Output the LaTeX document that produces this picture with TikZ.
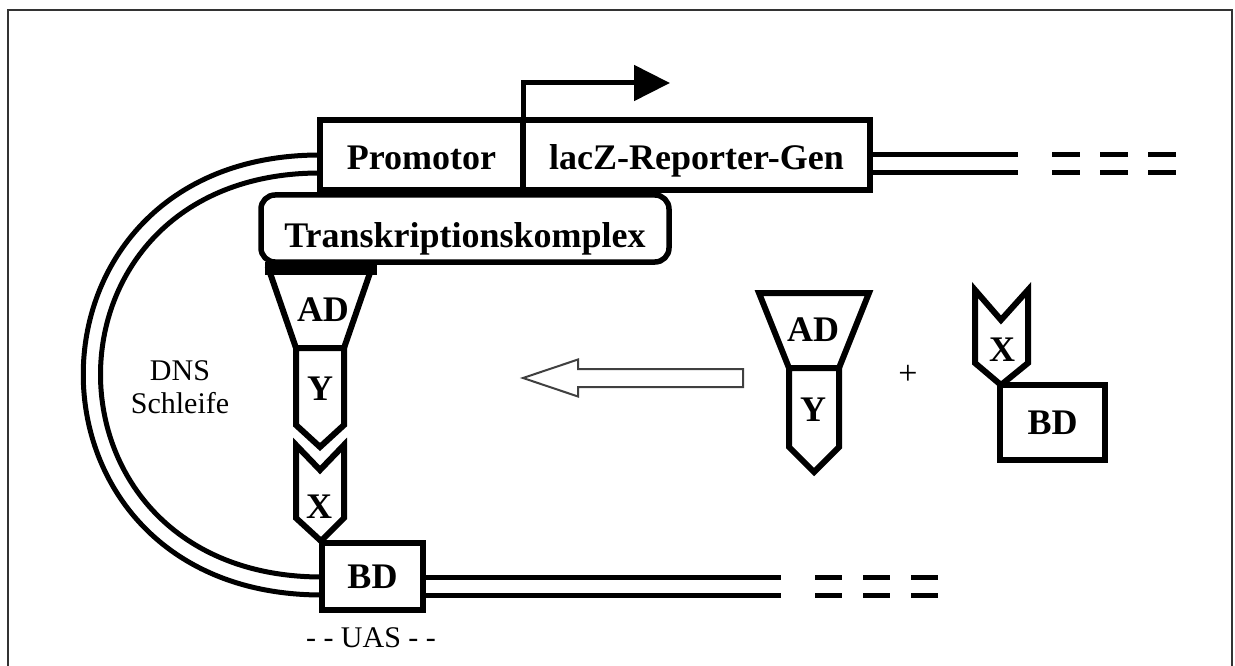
\documentclass[tikz,border=0pt]{standalone}
\usepackage{fontspec}
\setmainfont{Liberation Serif}
\usetikzlibrary{arrows.meta}
\begin{document}
\begin{tikzpicture}[x=1pt,y=-1pt,
  box/.style={draw, line width=5.5pt, fill=white, inner sep=0pt, outer sep=0pt,
    text height=24pt, text depth=0pt, font=\fontsize{36}{40}\selectfont\bfseries},
  lowtext/.style={text height=36pt, text depth=6pt},
  lowertext/.style={text height=40pt, text depth=3pt},
  part/.style={draw, line width=6pt, fill=white, line join=miter, miter limit=10},
  dna/.style={line width=5pt},
  lbl/.style={inner sep=0pt, font=\fontsize{36}{40}\selectfont\bfseries},
  small/.style={inner sep=0pt, font=\fontsize{30}{33}\selectfont}
]
\useasboundingbox (0,0) rectangle (1235,666);
% frame
\draw[line width=2.5pt, black!80] (8,10) rectangle (1232,720);

% helper coordinates for DNA strands
\coordinate (y1) at (0,155);
\coordinate (y2) at (0,173);
\coordinate (y3) at (0,577);
\coordinate (y4) at (0,595);
\coordinate (e1) at (1018,155);
\coordinate (e2) at (1018,173);
\coordinate (f1) at (781,577);
\coordinate (f2) at (781,595);
\coordinate (tss) at (670,83);

% boxes (nodes)
\node[box, lowtext, minimum width=203pt, minimum height=70pt] (prom) at (421.5,155) {};
\node[box, lowtext, minimum width=347pt, minimum height=70pt] (lacz) at (696.5,155) {lacZ-Reporter-Gen};
\node[box, minimum width=101pt, minimum height=67pt] (bdL) at (372.5,576.5) {};

% DNA loop
\draw[dna] (prom.west |- y1) .. controls (4,155) and (4,595) .. (bdL.west |- y4);
\draw[dna] (prom.west |- y2) .. controls (27,173) and (27,577) .. (bdL.west |- y3);

% boxes drawn over loop ends
\node[box, lowtext, minimum width=203pt, minimum height=70pt] at (prom) {Promotor};
\node[box, minimum width=101pt, minimum height=67pt] at (bdL) {BD};

% right DNA strands
\draw[dna] (lacz.east |- e1) -- (e1);
\draw[dna] (lacz.east |- e2) -- (e2);
\foreach \x in {1052,1100,1148} {
  \draw[dna] (\x,155) -- ++(28,0);
  \draw[dna] (\x,173) -- ++(28,0);
}
\draw[dna] (bdL.east |- f1) -- (f1);
\draw[dna] (bdL.east |- f2) -- (f2);
\foreach \x in {815,863,911} {
  \draw[dna] (\x,577) -- ++(27,0);
  \draw[dna] (\x,595) -- ++(27,0);
}

% transcription start arrow
\draw[line width=5pt, -{Triangle[length=36pt,width=35pt]}] (prom.north east) |- (tss);

% Transkriptionskomplex
\node[box, lowertext, rounded corners=14pt, minimum width=408pt, minimum height=67pt] (tk) at (465,228.5) {Transkriptionskomplex};

% left stack
\draw[part] (269,270) -- (371,270) -- (344,348) -- (296,348) -- cycle;
\fill (265,262) rectangle (377,275);
\draw[part] (296,348) -- (344,348) -- (344,425) -- (320,447) -- (296,425) -- cycle;
\draw[part] (296,445) -- (320,470) -- (344,445) -- (344,518) -- (321,541) -- (296,518) -- cycle;
\node[lbl] (adL) at (323,310) {AD};
\node[lbl] (yL) at (320,389) {Y};
\node[lbl] (xL) at (319,507) {X};

% right free proteins
\draw[part] (759,293) -- (869,293) -- (839,368) -- (789,368) -- cycle;
\draw[part] (789,368) -- (839,368) -- (839,447) -- (814,472) -- (789,447) -- cycle;
\node[lbl] (adR) at (813,330) {AD};
\node[lbl] (yR) at (813,410) {Y};
\draw[part] (975,290) -- (1001,320) -- (1028,290) -- (1028,363) -- (1001,385) -- (975,363) -- cycle;
\node[lbl] (xR) at (1002,350) {X};
\node[box, minimum width=105pt, minimum height=75pt] (bdR) at (1052.5,422.5) {BD};

% hollow arrow
\draw[line width=2pt, black!75, line join=miter] (523,378) -- (578,359.5) -- (578,369) -- (743,369) -- (743,387) -- (578,387) -- (578,396.5) -- cycle;

% texts
\node[small, align=center] (dns) at (180,387) {DNS\\Schleife};
\node[small] (uas) at (371,638) {- - UAS - -};
\node[inner sep=0pt, font=\fontsize{34}{36}\selectfont] (plus) at (908,375) {+};
\end{tikzpicture}
\end{document}
